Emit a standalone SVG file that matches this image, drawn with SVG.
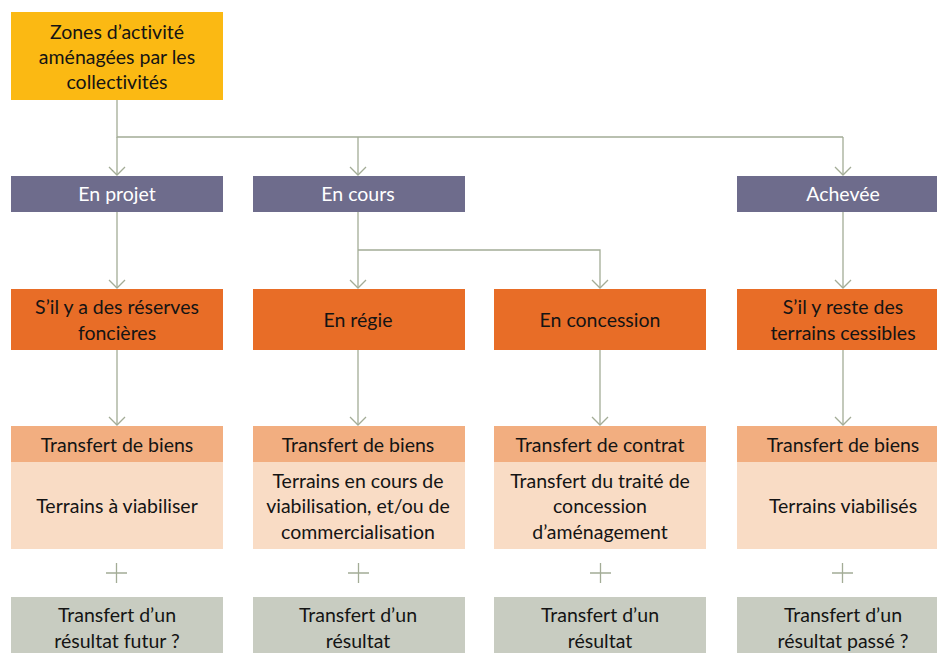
<svg xmlns="http://www.w3.org/2000/svg" width="937" height="653" viewBox="0 0 937 653">
<style>
text{font-family:Lato,"Open Sans","Liberation Sans",sans-serif;font-size:19.5px;fill:#141414;text-anchor:middle;font-variant-ligatures:none;font-feature-settings:"liga" 0}
.w{fill:#ffffff}
.top{fill:#FBB913}
.pur{fill:#6E6C8C}
.ora{fill:#E86D27}
.hdr{fill:#F2AE80}
.bod{fill:#F9DCC5}
.gry{fill:#C8CCC1}
.ln{fill:none;stroke:#A3AC96;stroke-width:1.3}
</style>
<defs>
<marker id="ah" markerWidth="20" markerHeight="20" refX="9" refY="9" orient="auto" markerUnits="userSpaceOnUse">
<path d="M1,1 L9,9 L1,17" fill="none" stroke="#A3AC96" stroke-width="1.3"/>
</marker>
</defs>
<g id="connectors">
<path class="ln" d="M117,100 V137 H843"/>
<path class="ln" d="M117,137 V175" marker-end="url(#ah)"/>
<path class="ln" d="M358,137 V175" marker-end="url(#ah)"/>
<path class="ln" d="M843,137 V175" marker-end="url(#ah)"/>
<path class="ln" d="M117,212 V288" marker-end="url(#ah)"/>
<path class="ln" d="M358,212 V288" marker-end="url(#ah)"/>
<path class="ln" d="M358,250 H600 V288" marker-end="url(#ah)"/>
<path class="ln" d="M843,212 V288" marker-end="url(#ah)"/>
<path class="ln" d="M117,350 V425" marker-end="url(#ah)"/>
<path class="ln" d="M358,350 V425" marker-end="url(#ah)"/>
<path class="ln" d="M600,350 V425" marker-end="url(#ah)"/>
<path class="ln" d="M843,350 V425" marker-end="url(#ah)"/>
<path class="ln" d="M106,573 H127 M116.5,563 V583"/>
<path class="ln" d="M348,573 H369 M358.5,563 V583"/>
<path class="ln" d="M590,573 H611 M600.5,563 V583"/>
<path class="ln" d="M832,573 H853 M842.5,563 V583"/>
</g>
<g id="root">
<rect class="top" x="11" y="12" width="212" height="88"/>
<text x="117" y="39">Zones d’activité</text>
<text x="117" y="64">aménagées par les</text>
<text x="117" y="89">collectivités</text>
</g>
<g id="en-projet"><rect class="pur" x="11" y="176" width="212" height="36"/><text class="w" x="117" y="201">En projet</text></g>
<g id="en-cours"><rect class="pur" x="253" y="176" width="212" height="36"/><text class="w" x="358" y="201">En cours</text></g>
<g id="achevee"><rect class="pur" x="737" y="176" width="212" height="36"/><text class="w" x="843" y="201">Achevée</text></g>
<g id="reserves"><rect class="ora" x="11" y="289" width="212" height="61"/><text x="117" y="314">S’il y a des réserves</text><text x="117" y="340">foncières</text></g>
<g id="regie"><rect class="ora" x="253" y="289" width="212" height="61"/><text x="358" y="327">En régie</text></g>
<g id="concession"><rect class="ora" x="494" y="289" width="212" height="61"/><text x="600" y="327">En concession</text></g>
<g id="reste"><rect class="ora" x="737" y="289" width="212" height="61"/><text x="843" y="314">S’il y reste des</text><text x="843" y="340">terrains cessibles</text></g>
<g id="tb1"><rect class="hdr" x="11" y="426" width="212" height="36"/><text x="117" y="452">Transfert de biens</text>
<rect class="bod" x="11" y="462" width="212" height="87"/><text x="117" y="513">Terrains à viabiliser</text></g>
<g id="tb2"><rect class="hdr" x="253" y="426" width="212" height="36"/><text x="358" y="452">Transfert de biens</text>
<rect class="bod" x="253" y="462" width="212" height="87"/><text x="358" y="488">Terrains en cours de</text><text x="358" y="513">viabilisation, et/ou de</text><text x="358" y="539">commercialisation</text></g>
<g id="tc3"><rect class="hdr" x="494" y="426" width="212" height="36"/><text x="600" y="452">Transfert de contrat</text>
<rect class="bod" x="494" y="462" width="212" height="87"/><text x="600" y="488">Transfert du traité de</text><text x="600" y="513">concession</text><text x="600" y="539">d’aménagement</text></g>
<g id="tb4"><rect class="hdr" x="737" y="426" width="212" height="36"/><text x="843" y="452">Transfert de biens</text>
<rect class="bod" x="737" y="462" width="212" height="87"/><text x="843" y="513">Terrains viabilisés</text></g>
<g id="r1"><rect class="gry" x="11" y="597" width="212" height="60"/><text x="117" y="622">Transfert d’un</text><text x="117" y="648">résultat futur ?</text></g>
<g id="r2"><rect class="gry" x="253" y="597" width="212" height="60"/><text x="358" y="622">Transfert d’un</text><text x="358" y="648">résultat</text></g>
<g id="r3"><rect class="gry" x="494" y="597" width="212" height="60"/><text x="600" y="622">Transfert d’un</text><text x="600" y="648">résultat</text></g>
<g id="r4"><rect class="gry" x="737" y="597" width="212" height="60"/><text x="843" y="622">Transfert d’un</text><text x="843" y="648">résultat passé ?</text></g>
</svg>
